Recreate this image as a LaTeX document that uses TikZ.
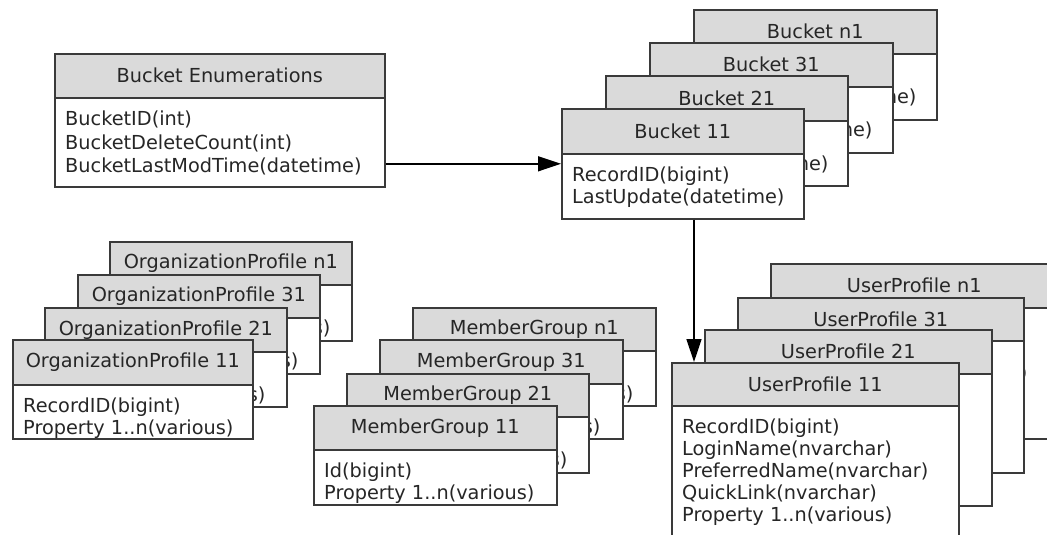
\documentclass[tikz,border=0pt]{standalone}
\usepackage{fontspec}
\setmainfont{DejaVu Sans}
\usetikzlibrary{arrows.meta}
\definecolor{hdr}{HTML}{DADADA}
\definecolor{edgec}{HTML}{3A3A3A}
\definecolor{txt}{HTML}{262626}
\tikzset{
  boxbody/.style={draw=edgec, fill=white, line width=1.6pt, anchor=north west, inner sep=0pt},
  boxhead/.style={draw=edgec, fill=hdr, line width=1.6pt, anchor=north west, inner sep=0pt,
    text=txt, font=\fontsize{19.3}{22}\selectfont},
  boxtext/.style={anchor=north west, inner sep=0pt, align=left, text=txt,
    font=\fontsize{19.3}{22}\selectfont},
  widetext/.style={font=\fontsize{19.3}{23.3}\selectfont},
  conn/.style={draw=black, line width=1.5pt, -{Triangle[length=23pt,width=15pt]}}
}
% #1 text style, #2 name, #3 x, #4 y, #5 width, #6 height, #7 header height, #8 title, #9 body
\newcommand\tblbox[9][]{%
  \node[boxbody, minimum width=#5pt, minimum height=#6pt] (#2) at (#3,#4) {};
  \node[boxhead, minimum width=#5pt, minimum height=#7pt] (#2h) at (#2.north west) {#8};
  \node[boxtext,#1] (#2t) at ([xshift=11pt,yshift=-12pt]#2h.south west) {\rule{0pt}{15pt}#9};
}
\begin{document}
\begin{tikzpicture}[x=1pt,y=-1pt]
\useasboundingbox (0,0) rectangle (1047,535);
\clip (0,0) rectangle (1047,535);
\fill[white] (0,0) rectangle (1047,535);

% Bucket Enumerations
\tblbox[widetext]{be}{54}{53}{330}{133}{44}{Bucket Enumerations}{BucketID(int)\\BucketDeleteCount(int)\\BucketLastModTime(datetime)}

% Buckets
\tblbox{bn}{693}{9}{243}{110}{44}{Bucket n1}{RecordID(bigint)\\LastUpdate(datetime)}
\tblbox{b31}{649}{42}{243}{110}{44}{Bucket 31}{RecordID(bigint)\\LastUpdate(datetime)}
\tblbox{b21}{605}{75}{242}{110}{45}{Bucket 21}{RecordID(bigint)\\LastUpdate(datetime)}
\tblbox{b11}{561}{108}{242}{110}{45}{Bucket 11}{RecordID(bigint)\\LastUpdate(datetime)}

% Organization profiles
\tblbox{opn}{109}{241}{242}{99}{43}{OrganizationProfile n1}{RecordID(bigint)\\Property 1..n(various)}
\tblbox{op31}{77}{274}{242}{99}{43}{OrganizationProfile 31}{RecordID(bigint)\\Property 1..n(various)}
\tblbox{op21}{44}{307}{242}{99}{44}{OrganizationProfile 21}{RecordID(bigint)\\Property 1..n(various)}
\tblbox{op11}{12}{339}{240}{99}{45}{OrganizationProfile 11}{RecordID(bigint)\\Property 1..n(various)}

% Member groups
\tblbox{mgn}{412}{307}{243}{98}{43}{MemberGroup n1}{Id(bigint)\\Property 1..n(various)}
\tblbox{mg31}{379}{339}{243}{99}{44}{MemberGroup 31}{Id(bigint)\\Property 1..n(various)}
\tblbox{mg21}{346}{373}{242}{99}{43}{MemberGroup 21}{Id(bigint)\\Property 1..n(various)}
\tblbox{mg11}{313}{405}{243}{99}{44}{MemberGroup 11}{Id(bigint)\\Property 1..n(various)}

% User profiles
\tblbox{upn}{770}{263}{287}{175}{44}{UserProfile n1}{RecordID(bigint)\\LoginName(nvarchar)\\PreferredName(nvarchar)\\QuickLink(nvarchar)\\Property 1..n(various)}
\tblbox{up31}{737}{297}{286}{175}{43}{UserProfile 31}{RecordID(bigint)\\LoginName(nvarchar)\\PreferredName(nvarchar)\\QuickLink(nvarchar)\\Property 1..n(various)}
\tblbox{up21}{704}{329}{287}{176}{44}{UserProfile 21}{RecordID(bigint)\\LoginName(nvarchar)\\PreferredName(nvarchar)\\QuickLink(nvarchar)\\Property 1..n(various)}
\tblbox{up11}{671}{362}{287}{176}{43}{UserProfile 11}{RecordID(bigint)\\LoginName(nvarchar)\\PreferredName(nvarchar)\\QuickLink(nvarchar)\\Property 1..n(various)}

% Connectors
\draw[conn] (be.east |- b11.west) -- (b11.west);
\draw[conn] ([xshift=133pt]b11.south west) -- ([xshift=133pt]b11.south west |- up11.north);
\end{tikzpicture}
\end{document}
